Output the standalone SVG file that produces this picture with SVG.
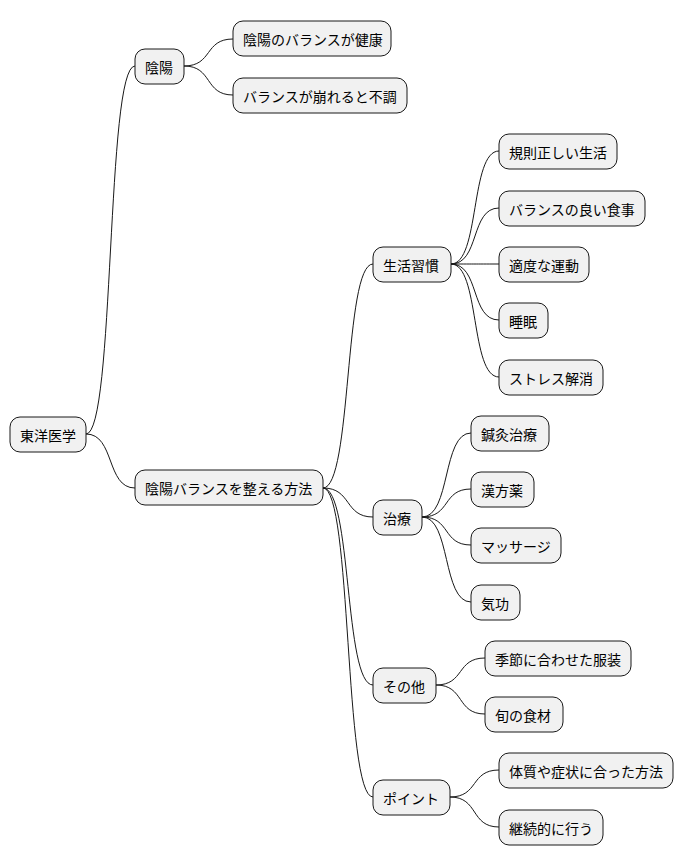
<svg xmlns="http://www.w3.org/2000/svg" width="684" height="865" viewBox="0 0 684 865">
<style>
.n rect{fill:#F1F1F1;stroke:#181818;stroke-width:1}
.n text{font-family:"Noto Sans CJK JP","Noto Sans",sans-serif;font-size:14px;fill:#000;dominant-baseline:central}
#c path{fill:none;stroke:#181818;stroke-width:1}
</style>
<rect width="684" height="865" fill="#fff"/>
<g id="c">
<path d="M86,434 C115,434 106,66 135,66"/>
<path d="M86,434 C115,434 106,488 135,488"/>
<path d="M184,66 C213,66 204,39 233,39"/>
<path d="M184,66 C213,66 204,95 233,95"/>
<path d="M323,488 C352,488 344,264 373,264"/>
<path d="M323,488 C352,488 344,517 373,517"/>
<path d="M323,488 C352,488 344,685 373,685"/>
<path d="M323,488 C352,488 344,797 373,797"/>
<path d="M451,264 C480,264 470,151 499,151"/>
<path d="M451,264 C480,264 470,208 499,208"/>
<path d="M451,264 C480,264 470,264 499,264"/>
<path d="M451,264 C480,264 470,320 499,320"/>
<path d="M451,264 C480,264 470,377 499,377"/>
<path d="M422,517 C451,517 442,433 471,433"/>
<path d="M422,517 C451,517 442,489 471,489"/>
<path d="M422,517 C451,517 442,545 471,545"/>
<path d="M422,517 C451,517 442,602 471,602"/>
<path d="M436,685 C465,685 456,658 485,658"/>
<path d="M436,685 C465,685 456,714 485,714"/>
<path d="M450,797 C479,797 470,770 499,770"/>
<path d="M450,797 C479,797 470,827 499,827"/>
</g>
<g id="n0" class="n"><rect x="10" y="417" width="76" height="35" rx="10"/><text x="20" y="434.5">東洋医学</text></g>
<g id="n1" class="n"><rect x="135" y="49" width="49" height="35" rx="10"/><text x="145" y="66.5">陰陽</text></g>
<g id="n2" class="n"><rect x="233" y="21" width="158" height="35" rx="10"/><text x="243" y="38.5">陰陽のバランスが健康</text></g>
<g id="n3" class="n"><rect x="233" y="78" width="174" height="35" rx="10"/><text x="243" y="95.5">バランスが崩れると不調</text></g>
<g id="n4" class="n"><rect x="135" y="470" width="188" height="35" rx="10"/><text x="145" y="487.5">陰陽バランスを整える方法</text></g>
<g id="n5" class="n"><rect x="373" y="247" width="78" height="35" rx="10"/><text x="383" y="264.5">生活習慣</text></g>
<g id="n6" class="n"><rect x="499" y="134" width="118" height="35" rx="10"/><text x="509" y="151.5">規則正しい生活</text></g>
<g id="n7" class="n"><rect x="499" y="191" width="146" height="35" rx="10"/><text x="509" y="208.5">バランスの良い食事</text></g>
<g id="n8" class="n"><rect x="499" y="247" width="90" height="35" rx="10"/><text x="509" y="264.5">適度な運動</text></g>
<g id="n9" class="n"><rect x="499" y="303" width="49" height="35" rx="10"/><text x="509" y="320.5">睡眠</text></g>
<g id="n10" class="n"><rect x="499" y="360" width="104" height="35" rx="10"/><text x="509" y="377.5">ストレス解消</text></g>
<g id="n11" class="n"><rect x="373" y="500" width="49" height="35" rx="10"/><text x="383" y="517.5">治療</text></g>
<g id="n12" class="n"><rect x="471" y="416" width="78" height="35" rx="10"/><text x="481" y="433.5">鍼灸治療</text></g>
<g id="n13" class="n"><rect x="471" y="472" width="63" height="35" rx="10"/><text x="481" y="489.5">漢方薬</text></g>
<g id="n14" class="n"><rect x="471" y="528" width="90" height="35" rx="10"/><text x="481" y="545.5">マッサージ</text></g>
<g id="n15" class="n"><rect x="471" y="585" width="49" height="35" rx="10"/><text x="481" y="602.5">気功</text></g>
<g id="n16" class="n"><rect x="373" y="668" width="63" height="35" rx="10"/><text x="383" y="685.5">その他</text></g>
<g id="n17" class="n"><rect x="485" y="641" width="146" height="35" rx="10"/><text x="495" y="658.5">季節に合わせた服装</text></g>
<g id="n18" class="n"><rect x="485" y="697" width="78" height="35" rx="10"/><text x="495" y="714.5">旬の食材</text></g>
<g id="n19" class="n"><rect x="373" y="780" width="77" height="35" rx="10"/><text x="383" y="797.5">ポイント</text></g>
<g id="n20" class="n"><rect x="499" y="753" width="174" height="35" rx="10"/><text x="509" y="770.5">体質や症状に合った方法</text></g>
<g id="n21" class="n"><rect x="499" y="810" width="104" height="35" rx="10"/><text x="509" y="827.5">継続的に行う</text></g>
</svg>
